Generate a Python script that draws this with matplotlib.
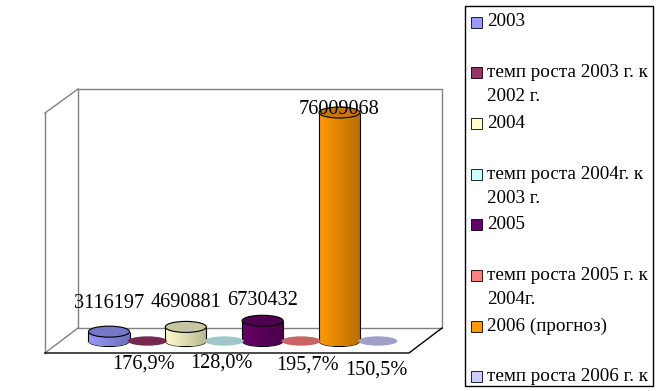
import numpy as np
import matplotlib
matplotlib.use("Agg")
import matplotlib.pyplot as plt
from matplotlib.patches import Rectangle, Ellipse
from matplotlib.colors import to_rgb

plt.rcParams['font.family'] = ['Liberation Serif', 'DejaVu Serif']

labels = ["2003", "темп роста 2003 г. к\n2002 г.", "2004", "темп роста 2004г. к\n2003 г.",
          "2005", "темп роста 2005 г. к\n2004г.", "2006 (прогноз)", "темп роста 2006 г. к\n2005 г."]
values = [3116197, 1.769, 4690881, 1.280, 6730432, 1.957, 76009068, 1.505]
value_text = ["3116197", "176,9%", "4690881", "128,0%", "6730432", "195,7%", "76009068", "150,5%"]
colors = ["#9999FF", "#993366", "#FFFFCC", "#CCFFFF", "#660066", "#FF8080", "#FF9900", "#CCCCFF"]
is_rate = [False, True, False, True, False, True, False, True]

# label offsets in pixels (dx, dy), Excel-like placement
label_off = [(0, 28), (-4, -23), (0, 24), (-3, -22), (0, 20), (7, -24), (0, 3), (-1, -29)]

W, H = 663, 391
fig = plt.figure(figsize=(W / 100, H / 100), dpi=100)

# background: 3d box drawn in pixel coords
bg = fig.add_axes([0, 0, 1, 1])
bg.set_xlim(0, W)
bg.set_ylim(H, 0)
bg.axis('off')
gray = "#808080"
bg.plot([78, 442, 442, 78, 78], [89, 89, 328, 328, 89], color=gray, lw=1)
bg.plot([45, 78], [113, 89], color=gray, lw=1)
bg.plot([45, 45], [113, 353], color=gray, lw=1)
bg.plot([45, 78], [353, 328], color=gray, lw=1)
bg.plot([45, 409, 442], [353, 353, 328], color="black", lw=1)

# main data axes, mapped onto the box area
x0, x1, y0, y1 = 45, 442, 89, 353
ax = fig.add_axes([x0 / W, (H - y1) / H, (x1 - x0) / W, (y1 - y0) / H])
ax.patch.set_visible(False)
ax.axis('off')

step = 38.4
px_per_val = 3.006e-6
base_px = 341
xlim = ((x0 - 109) / step, (x1 - 109) / step)
ylim = (-(y1 - base_px) / px_per_val, (base_px - y0) / px_per_val)

bw = 1.07
ell_h = 11 / px_per_val
xs = np.arange(len(values))

for i, (v, c) in enumerate(zip(values, colors)):
    rgb = np.array(to_rgb(c))
    top = rgb * 0.78
    if not is_rate[i]:
        shade = np.linspace(1.0, 0.72, 40)
        grad = (rgb[None, :] * shade[:, None])[None, :, :]
        bars = ax.bar(xs[i], v, width=bw, color='none', edgecolor='none')
        rect = bars[0]
        im = ax.imshow(grad, extent=[xs[i] - bw / 2, xs[i] + bw / 2, 0, v], aspect='auto', zorder=2)
        im.set_clip_path(rect)
        bot = Ellipse((xs[i], 0), bw, ell_h, facecolor='none', edgecolor='none', zorder=2)
        ax.add_patch(bot)
        im2 = ax.imshow(grad, extent=[xs[i] - bw / 2, xs[i] + bw / 2, -ell_h / 2, ell_h / 2],
                        aspect='auto', zorder=1.9)
        im2.set_clip_path(bot)
        ax.add_patch(Ellipse((xs[i], 0), bw, ell_h, facecolor='none', edgecolor='black',
                             lw=0.8, zorder=1.8))
        ax.vlines([xs[i] - bw / 2, xs[i] + bw / 2], 0, v, color='black', lw=0.8, zorder=3)
        ax.add_patch(Ellipse((xs[i], v), bw, ell_h, facecolor=top, edgecolor='black',
                             lw=0.8, zorder=4))
    else:
        ax.bar(xs[i], v, width=bw, color=c)
        ax.add_patch(Ellipse((xs[i], v), bw * 0.95, ell_h * 0.85, facecolor=top,
                             edgecolor='none', zorder=4))
    dx, dy = label_off[i]
    ax.annotate(value_text[i], (xs[i], v), xytext=(dx, dy), textcoords='offset pixels',
                ha='center', va='center', fontsize=14.6, zorder=5)

ax.set_xlim(*xlim)
ax.set_ylim(*ylim)

# legend, drawn in pixel coords
lg = fig.add_axes([0, 0, 1, 1])
lg.set_xlim(0, W)
lg.set_ylim(H, 0)
lg.axis('off')
lg.add_patch(Rectangle((465, 6), 188, 380, facecolor='white', edgecolor='black', lw=1))
ytop = 22
for i, (lab, c) in enumerate(zip(labels, colors)):
    y = ytop + i * 50.7
    lg.add_patch(Rectangle((471, y - 5.5), 11, 11, facecolor=c, edgecolor='black', lw=0.6))
    for j, line in enumerate(lab.split("\n")):
        yy = y + j * 24
        if yy < 386:
            lg.text(487, yy, line, ha='left', va='center', fontsize=13.8)

fig.savefig("out.png", dpi=100)
